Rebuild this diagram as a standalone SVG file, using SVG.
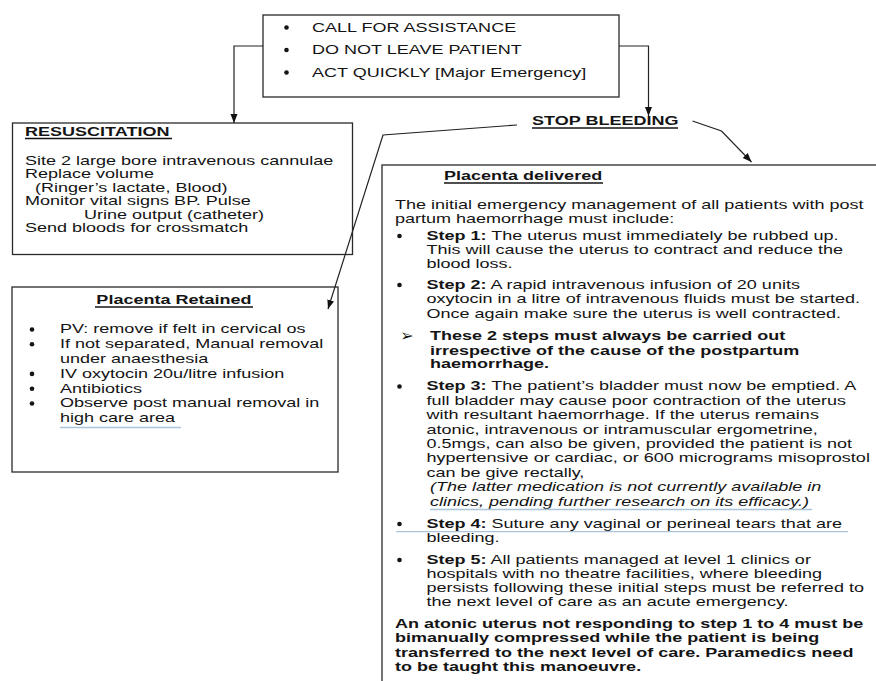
<svg xmlns="http://www.w3.org/2000/svg" width="876" height="681" viewBox="0 0 876 681">
<defs>
<style>
.t{font-family:"Liberation Sans",Arial,sans-serif;font-size:13.6px;fill:#141414}
.b{font-weight:bold}
.i{font-style:italic}
.dot{fill:#141414}
.arr{font-family:"DejaVu Sans",sans-serif;font-size:16px;font-weight:bold;fill:#141414;text-anchor:middle}
.box{fill:#fff;stroke:#2a2a2a;stroke-width:1.3}
.ul{stroke:#141414;stroke-width:1.4}
.blue{stroke:#a9c4dc;stroke-width:1.3}
.conn{fill:none;stroke:#222;stroke-width:1.2}
</style>
<marker id="ah" markerUnits="userSpaceOnUse" markerWidth="10" markerHeight="8" refX="9" refY="3.5" orient="auto">
<path d="M0,0 L9,3.5 L0,7 z" fill="#111"/>
</marker>
</defs>
<rect width="876" height="681" fill="#fff"/>

<g id="n-top">
<rect class="box" x="263" y="15" width="356" height="82"/>
<circle class="dot" cx="286.5" cy="27.5" r="2.3"/>
<circle class="dot" cx="286.5" cy="50" r="2.3"/>
<circle class="dot" cx="286.5" cy="72.5" r="2.3"/>
<g transform="translate(312 0) scale(1.325 1)">
<text class="t" x="0" y="32">CALL FOR ASSISTANCE</text>
<text class="t" x="0" y="54.5">DO NOT LEAVE PATIENT</text>
<text class="t" x="0" y="77">ACT QUICKLY [Major Emergency]</text>
</g>
</g>

<g id="n-resus">
<rect class="box" x="12.5" y="123" width="340" height="131.5"/>
<g transform="translate(25 0) scale(1.325 1)">
<text class="t b" x="0" y="136">RESUSCITATION</text>
<text class="t" x="0" y="165">Site 2 large bore intravenous cannulae</text>
<text class="t" x="0" y="178.5">Replace volume</text>
<text class="t" x="7.5" y="192">(Ringer’s lactate, Blood)</text>
<text class="t" x="0" y="205.5">Monitor vital signs BP. Pulse</text>
<text class="t" x="44.5" y="219">Urine output (catheter)</text>
<text class="t" x="0" y="232.5">Send bloods for crossmatch</text>
</g>
<line class="ul" x1="25" y1="138.5" x2="172" y2="138.5"/>
</g>

<g id="n-retained">
<rect class="box" x="12" y="287" width="326" height="185"/>
<g transform="translate(60 0) scale(1.325 1)">
<text class="t b" x="86" y="304.5" text-anchor="middle">Placenta Retained</text>
<text class="t" x="0" y="333.5">PV: remove if felt in cervical os</text>
<text class="t" x="0" y="348.3">If not separated, Manual removal</text>
<text class="t" x="0" y="363.1">under anaesthesia</text>
<text class="t" x="0" y="377.9">IV oxytocin 20u/litre infusion</text>
<text class="t" x="0" y="392.7">Antibiotics</text>
<text class="t" x="0" y="407.5">Observe post manual removal in</text>
<text class="t" x="0" y="422.3">high care area</text>
</g>
<circle class="dot" cx="32" cy="329.5" r="2.3"/>
<circle class="dot" cx="32" cy="344.3" r="2.3"/>
<circle class="dot" cx="32" cy="373.9" r="2.3"/>
<circle class="dot" cx="32" cy="388.7" r="2.3"/>
<circle class="dot" cx="32" cy="403.5" r="2.3"/>
<line class="ul" x1="95" y1="307" x2="253" y2="307"/>
<line class="blue" x1="60" y1="427.5" x2="181" y2="427.5"/>
</g>

<g id="n-stop">
<g transform="translate(532 0) scale(1.325 1)">
<text class="t b" x="0" y="125">STOP BLEEDING</text>
</g>
<line class="ul" x1="532" y1="128" x2="678" y2="128"/>
</g>

<g id="n-delivered">
<rect class="box" x="382" y="165" width="540" height="560"/>
<g transform="translate(444 0) scale(1.325 1)">
<text class="t b" x="0" y="180.5">Placenta delivered</text>
</g>
<line class="ul" x1="444" y1="183" x2="603" y2="183"/>
<circle class="dot" cx="399.5" cy="236" r="2.3"/>
<circle class="dot" cx="399.5" cy="285" r="2.3"/>
<text class="arr" x="407" y="341">➢</text>
<circle class="dot" cx="399.5" cy="386.5" r="2.3"/>
<circle class="dot" cx="399.5" cy="524" r="2.3"/>
<circle class="dot" cx="399.5" cy="560" r="2.3"/>
<g transform="translate(395 0) scale(1.325 1)">
<text class="t" x="0" y="209">The initial emergency management of all patients with post</text>
<text class="t" x="0" y="223.5">partum haemorrhage must include:</text>
<text class="t" x="23.8" y="240"><tspan class="b">Step 1:</tspan> The uterus must immediately be rubbed up.</text>
<text class="t" x="23.8" y="254">This will cause the uterus to contract and reduce the</text>
<text class="t" x="23.8" y="268">blood loss.</text>
<text class="t" x="23.8" y="289"><tspan class="b">Step 2:</tspan> A rapid intravenous infusion of 20 units</text>
<text class="t" x="23.8" y="303.5">oxytocin in a litre of intravenous fluids must be started.</text>
<text class="t" x="23.8" y="318">Once again make sure the uterus is well contracted.</text>
<text class="t b" x="26.4" y="340">These 2 steps must always be carried out</text>
<text class="t b" x="26.4" y="354.7">irrespective of the cause of the postpartum</text>
<text class="t b" x="26.4" y="368.5">haemorrhage.</text>
<text class="t" x="23.8" y="390.5"><tspan class="b">Step 3:</tspan> The patient’s bladder must now be emptied. A</text>
<text class="t" x="23.8" y="405">full bladder may cause poor contraction of the uterus</text>
<text class="t" x="23.8" y="419.3">with resultant haemorrhage. If the uterus remains</text>
<text class="t" x="23.8" y="434">atonic, intravenous or intramuscular ergometrine,</text>
<text class="t" x="23.8" y="448.5">0.5mgs, can also be given, provided the patient is not</text>
<text class="t" x="23.8" y="462.5">hypertensive or cardiac, or 600 micrograms misoprostol</text>
<text class="t" x="23.8" y="477.5">can be give rectally,</text>
<text class="t i" x="26.4" y="491.5">(The latter medication is not currently available in</text>
<text class="t i" x="26.4" y="506">clinics, pending further research on its efficacy.)</text>
<text class="t" x="23.8" y="528"><tspan class="b">Step 4:</tspan> Suture any vaginal or perineal tears that are</text>
<text class="t" x="23.8" y="542">bleeding.</text>
<text class="t" x="23.8" y="564"><tspan class="b">Step 5:</tspan> All patients managed at level 1 clinics or</text>
<text class="t" x="23.8" y="578">hospitals with no theatre facilities, where bleeding</text>
<text class="t" x="23.8" y="592.3">persists following these initial steps must be referred to</text>
<text class="t" x="23.8" y="606.5">the next level of care as an acute emergency.</text>
<text class="t b" x="0" y="628">An atonic uterus not responding to step 1 to 4 must be</text>
<text class="t b" x="0" y="642.3">bimanually compressed while the patient is being</text>
<text class="t b" x="0" y="656.7">transferred to the next level of care. Paramedics need</text>
<text class="t b" x="0" y="670.7">to be taught this manoeuvre.</text>
</g>
<line class="blue" x1="430" y1="509.5" x2="812" y2="509.5"/>
<line class="blue" x1="396" y1="531.7" x2="848" y2="531.7"/>
</g>

<g id="connectors">
<path class="conn" d="M263,46 H234 V123" marker-end="url(#ah)"/>
<path class="conn" d="M619,46 H648.5 V116" marker-end="url(#ah)"/>
<path class="conn" d="M517,125 L383,135 L328,309" marker-end="url(#ah)"/>
<path class="conn" d="M692.5,121 L721.5,131 L751.5,162" marker-end="url(#ah)"/>
</g>
</svg>
